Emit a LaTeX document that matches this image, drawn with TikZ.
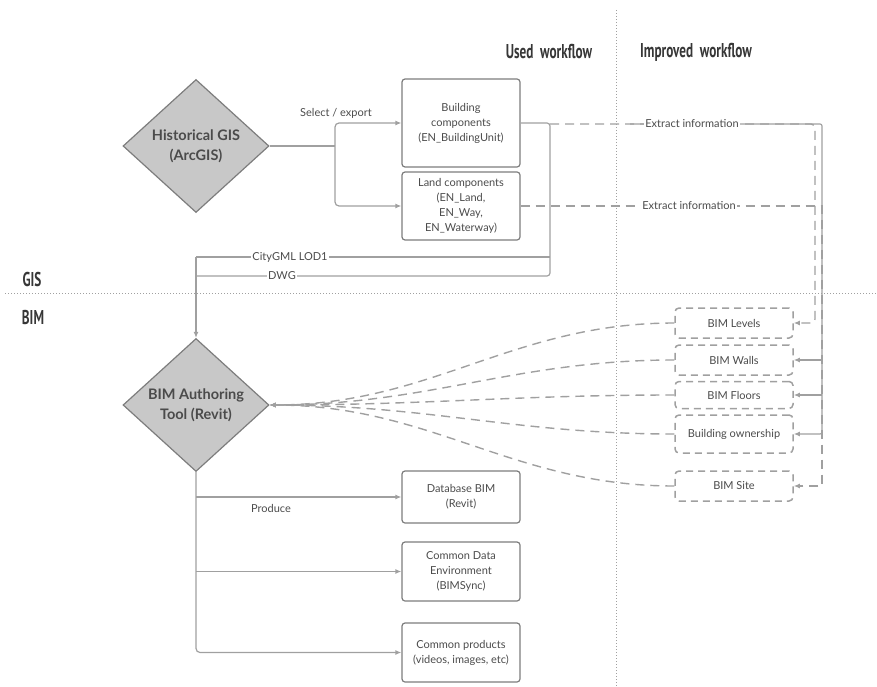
\documentclass[tikz,border=0pt]{standalone}
\usepackage{fontspec}
\setmainfont{Lato}
\newfontfamily\condfont[FakeStretch=0.66]{PT Sans}
\usetikzlibrary{arrows.meta,shapes.geometric}
\definecolor{lgray}{RGB}{160,160,160}
\definecolor{bgray}{RGB}{125,125,125}
\definecolor{tgray}{RGB}{75,75,75}
\definecolor{hgray}{RGB}{55,55,55}
\definecolor{dfill}{RGB}{200,200,200}
\begin{document}
\begin{tikzpicture}[x=1pt,y=-1pt,
  txt/.style={font=\fontsize{11}{15}\selectfont, text=tgray, align=center},
  box/.style={txt, draw=bgray, line width=1.2pt, rounded corners=3pt, minimum width=118pt, inner sep=2pt},
  dbox/.style={txt, draw=lgray, line width=1.5pt, dash pattern=on 7pt off 5pt, rounded corners=4pt, minimum width=118pt, inner sep=2pt},
  dia/.style={diamond, draw=bgray, fill=dfill, line width=1.2pt, inner sep=0pt, minimum width=146pt, minimum height=133pt},
  dtxt/.style={font=\fontsize{14.5}{20}\selectfont\bfseries, text=tgray, align=center},
  conn/.style={draw=lgray, line width=1.2pt},
  dconn/.style={conn, line width=1.4pt, dash pattern=on 9pt off 6pt},
  arr/.style={-{Latex[length=6pt,width=5pt]}},
  lab/.style={txt, fill=white, inner sep=1pt},
  head/.style={font=\condfont\bfseries\fontsize{20}{22}\selectfont, text=hgray},
  sep/.style={draw=lgray, line width=1pt, dotted}
]
\useasboundingbox (0,0) rectangle (877,687);

% separators
\coordinate (vt) at (616,10);
\coordinate (vb) at (616,687);
\coordinate (hl) at (5,293);
\coordinate (hr) at (877,293);
\draw[sep] (vt) -- (vb);
\draw[sep] (hl) -- (hr);

% headings
\node[head] (used) at (549,52) {Used\, workflow};
\node[head] (impr) at (696,52) {Improved\, workflow};
\node[head] (gis) at (32,279) {GIS};
\node[head] (bimh) at (33,317) {BIM};

% diamonds
\node[dia] (hgis) at (196,146) {};
\node[dtxt] (hgist) at (hgis.center) {Historical GIS\\(ArcGIS)};
\node[dia] (bim) at (196,405) {};
\node[dtxt] (bimt) at (bim.center) {BIM Authoring\\Tool (Revit)};

% used workflow boxes
\node[box, minimum height=88pt] (bc) at (461,123) {Building\\components\\(EN\_BuildingUnit)};
\node[box, minimum height=68pt] (lc) at (461,206) {Land components\\(EN\_Land,\\EN\_Way,\\EN\_Waterway)};
\node[box, minimum height=52pt] (db) at (461,497) {Database BIM\\(Revit)};
\node[box, minimum height=59pt] (cde) at (461,571.5) {Common Data\\Environment\\(BIMSync)};
\node[box, minimum height=59pt] (cp) at (461,652.5) {Common products\\(videos, images, etc)};

% improved workflow boxes
\node[dbox, minimum height=30pt] (lev) at (734,323) {BIM Levels};
\node[dbox, minimum height=30pt] (wal) at (734,360) {BIM Walls};
\node[dbox, minimum height=27pt] (flo) at (734,395) {BIM Floors};
\node[dbox, minimum height=38pt] (own) at (734,434) {Building ownership};
\node[dbox, minimum height=30pt] (site) at (734,486) {BIM Site};

% select / export
\coordinate (sp) at (335,146);
\draw[conn] (hgis.east) -- (sp);
\draw[conn, arr, rounded corners=4pt] (sp) |- (bc.west);
\draw[conn, arr, rounded corners=4pt] (sp) |- (lc.west);
\node[txt] (selx) at (336,113) {Select / export};

% used workflow export
\coordinate (u1) at (550,123);
\coordinate (u2) at (550,276);
\coordinate (u3) at (196,276);
\coordinate (c1) at (550,257);
\coordinate (c2) at (196,257);
\draw[conn, rounded corners=3pt] (bc.east) -- (u1) -- (u2) -- (u3);
\draw[conn] (c1) -- (c2);
\draw[conn, arr] (c2) -- (bim.north);
\node[lab] (citygml) at (290,257) {CityGML LOD1};
\node[lab] (dwg) at (282,276) {DWG};

% improved workflow extraction
\coordinate (e1) at (550,124);
\coordinate (e2) at (815,124);
\coordinate (e3) at (815,323);
\draw[dconn, arr, rounded corners=4pt] (e1) -- (e2) -- (e3) -- (lev.east);
\coordinate (s1) at (630,124);
\coordinate (s2) at (822,124);
\coordinate (s3) at (822,434);
\draw[conn, arr, rounded corners=2pt] (s1) -- (s2) -- (s3) -- (own.east);
\coordinate (s4) at (822,360);
\coordinate (s5) at (822,395);
\draw[conn, arr] (s4) -- (wal.east);
\draw[conn, arr] (s5) -- (flo.east);
\node[lab] (ex1) at (692,124) {Extract information};
\coordinate (l1) at (822,206);
\coordinate (l2) at (822,486);
\draw[dconn, arr] (lc.east) -- (l1) -- (l2) -- (site.east);
\node[lab] (ex2) at (689,206) {Extract information};

% curves to BIM authoring tool
\foreach \b in {lev,wal,flo,own,site}
  \draw[dconn, arr] (\b.west) to[out=180,in=0] (bim.east);

% produce
\coordinate (p0) at (196,497);
\coordinate (p1) at (196,571.5);
\draw[conn, arr, rounded corners=4pt] (bim.south) |- (cp.west);
\draw[conn, arr] (p0) -- (db.west);
\draw[conn, arr] (p1) -- (cde.west);
\node[txt] (prod) at (271,508) {Produce};
\end{tikzpicture}
\end{document}
